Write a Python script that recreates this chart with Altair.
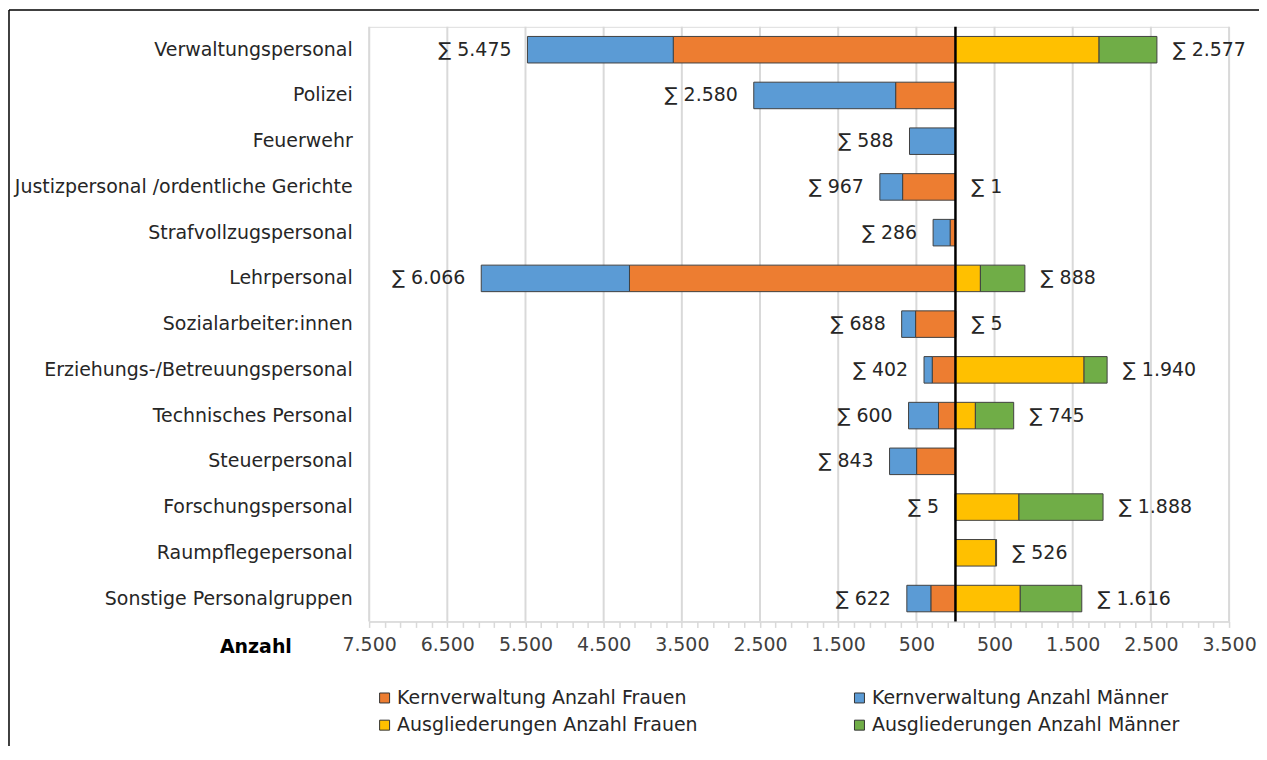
import altair as alt
import pandas as pd

categories = [
    "Verwaltungspersonal", "Polizei", "Feuerwehr",
    "Justizpersonal /ordentliche Gerichte", "Strafvollzugspersonal",
    "Lehrpersonal", "Sozialarbeiter:innen", "Erziehungs-/Betreuungspersonal",
    "Technisches Personal", "Steuerpersonal", "Forschungspersonal",
    "Raumpflegepersonal", "Sonstige Personalgruppen",
]
kern_frauen = [3610, 765, 0, 676, 68, 4170, 510, 297, 217, 497, 5, 0, 315]
kern_maenner = [1865, 1815, 588, 291, 218, 1896, 178, 105, 383, 346, 0, 0, 307]
ausg_frauen = [1837, 0, 0, 1, 0, 319, 5, 1645, 255, 0, 812, 515, 829]
ausg_maenner = [740, 0, 0, 0, 0, 569, 0, 295, 490, 0, 1076, 11, 787]

series_names = [
    "Kernverwaltung Anzahl Frauen", "Kernverwaltung Anzahl Männer",
    "Ausgliederungen Anzahl Frauen", "Ausgliederungen Anzahl Männer",
]
series_colors = ["#ED7D31", "#5B9BD5", "#FFC000", "#70AD47"]

major_ticks = [-7500, -6500, -5500, -4500, -3500, -2500, -1500, -500,
               500, 1500, 2500, 3500]
minor_ticks = list(range(-7500, 3501, 200))

FONT = "DejaVu Sans"
FS = 19


def fmt(v):
    return "∑ " + f"{v:,}".replace(",", ".")


bar_rows, left_rows, right_rows = [], [], []
for i, c in enumerate(categories):
    kf, km, af, am = kern_frauen[i], kern_maenner[i], ausg_frauen[i], ausg_maenner[i]
    segs = [
        (series_names[0], 0, -kf),
        (series_names[1], -kf, -(kf + km)),
        (series_names[2], 0, af),
        (series_names[3], af, af + am),
    ]
    for name, a, b in segs:
        if a != b:
            bar_rows.append({"cat": c, "series": name, "x0": a, "x1": b})
    if kf + km > 0:
        left_rows.append({"cat": c, "x": -(kf + km), "text": fmt(kf + km)})
    if af + am > 0:
        right_rows.append({"cat": c, "x": af + am, "text": fmt(af + am)})

bars_df = pd.DataFrame(bar_rows)
left_df = pd.DataFrame(left_rows)
right_df = pd.DataFrame(right_rows)
grid_df = pd.DataFrame({"v": major_ticks})
zero_df = pd.DataFrame({"v": [0]})

xs = alt.Scale(domain=[-7500, 3500], nice=False, zero=False)
x_axis = alt.Axis(
    values=minor_ticks,
    labelExpr="abs(datum.value) % 1000 == 500 ? replace(format(abs(datum.value), ','), ',', '.') : ''",
    grid=False, tickSize=6, tickColor="#D9D9D9", tickWidth=1.5,
    domainColor="#D9D9D9", domainWidth=1.5,
    labelFontSize=FS, labelColor="#404040", labelPadding=8,
    labelOverlap=False, labelFlush=False, labelFont=FONT,
    title="Anzahl", titleFontSize=FS, titleFontWeight="bold", titleColor="#000000",
    titleFont=FONT, titleX=-114, titleY=25, titleAlign="center", titleBaseline="middle",
)
ys = alt.Scale(domain=categories, paddingInner=0.42, paddingOuter=0.21)
y_axis = alt.Axis(title=None, domain=False, ticks=False, labelPadding=17,
                  labelFontSize=FS, labelColor="#262626", labelLimit=500,
                  grid=False, labelFont=FONT)


def Y():
    return alt.Y("cat:N", scale=ys, axis=y_axis, sort=categories)


grid = alt.Chart(grid_df).mark_rule(color="#D9D9D9", strokeWidth=2).encode(
    x=alt.X("v:Q", scale=xs, axis=x_axis)
)

bars = alt.Chart(bars_df).mark_bar(stroke="#404040", strokeWidth=1).encode(
    y=Y(),
    x=alt.X("x0:Q", scale=xs, axis=x_axis),
    x2="x1:Q",
    color=alt.Color(
        "series:N",
        scale=alt.Scale(domain=series_names, range=series_colors),
        legend=alt.Legend(
            orient="none", legendX=6, legendY=663, columns=2, direction="horizontal",
            title=None,
            symbolType="square", symbolSize=100, symbolStrokeColor="#333333",
            symbolStrokeWidth=1, symbolOpacity=1,
            labelFontSize=FS, labelFont=FONT, labelColor="#262626",
            labelLimit=500, labelOffset=3, columnPadding=152, rowPadding=7.5,
            padding=0,
        ),
    ),
)

zero = alt.Chart(zero_df).mark_rule(color="#000000", strokeWidth=2.5).encode(
    x=alt.X("v:Q", scale=xs, axis=x_axis)
)

left_text = alt.Chart(left_df).mark_text(
    align="right", baseline="middle", dx=-16, fontSize=FS, font=FONT, color="#262626"
).encode(y=Y(), x=alt.X("x:Q", scale=xs, axis=x_axis), text="text:N")

right_text = alt.Chart(right_df).mark_text(
    align="left", baseline="middle", dx=16, fontSize=FS, font=FONT, color="#262626"
).encode(y=Y(), x=alt.X("x:Q", scale=xs, axis=x_axis), text="text:N")

frame_df = pd.DataFrame({"k": [1]})
frame_top = alt.Chart(frame_df).mark_rule(color="#000000", strokeWidth=1.5, clip=False).encode(
    x=alt.value(-361), x2=alt.value(2000), y=alt.value(-17)
)
frame_left = alt.Chart(frame_df).mark_rule(color="#000000", strokeWidth=1.5, clip=False).encode(
    x=alt.value(-361), y=alt.value(-17), y2=alt.value(2000)
)

chart = alt.layer(grid, bars, zero, left_text, right_text, frame_top, frame_left).properties(
    width=862, height=596, autosize="none",
    padding={"left": 362, "top": 18, "right": 30, "bottom": 124},
).configure_view(stroke=None).configure(font=FONT)

chart.save("out.html", embed_options={"renderer": "svg", "actions": False})
